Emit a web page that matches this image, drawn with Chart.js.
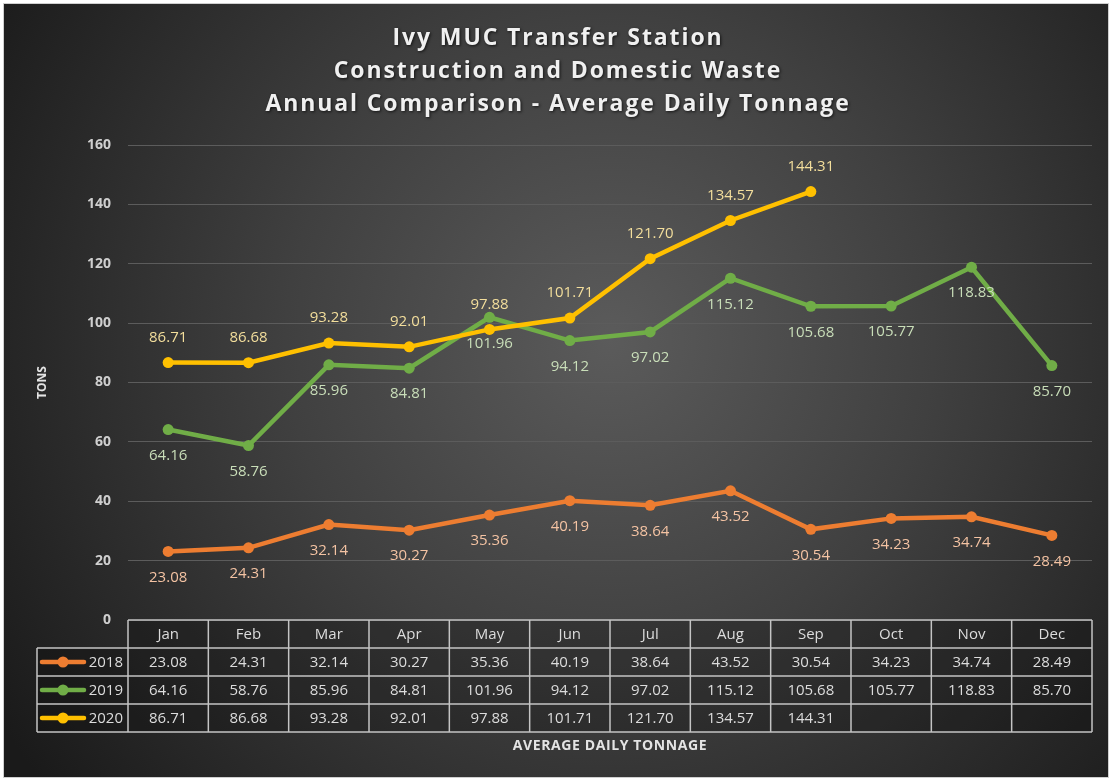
<!DOCTYPE html>
<html>
<head>
<meta charset="utf-8">
<script src="https://cdn.jsdelivr.net/npm/chart.js@4.4.1/dist/chart.umd.min.js"></script>
<style>
  html, body { margin: 0; padding: 0; background: #ffffff; }
  #wrap { width: 1112px; height: 781px; position: relative; }
  canvas { display: block; }
</style>
</head>
<body>
<div id="wrap"><canvas id="c" width="1112" height="781"></canvas></div>
<script>
// ---------- DATA ----------
const months = ['Jan', 'Feb', 'Mar', 'Apr', 'May', 'Jun', 'Jul', 'Aug', 'Sep', 'Oct', 'Nov', 'Dec'];
const seriesNames = ['2018', '2019', '2020'];
const tons2018 = [23.08, 24.31, 32.14, 30.27, 35.36, 40.19, 38.64, 43.52, 30.54, 34.23, 34.74, 28.49];
const tons2019 = [64.16, 58.76, 85.96, 84.81, 101.96, 94.12, 97.02, 115.12, 105.68, 105.77, 118.83, 85.70];
const tons2020 = [86.71, 86.68, 93.28, 92.01, 97.88, 101.71, 121.70, 134.57, 144.31, null, null, null];
const yMin = 0;
const yMax = 160;
const yStep = 20;
const titleLines = ['Ivy MUC Transfer Station', 'Construction and Domestic Waste', 'Annual Comparison - Average Daily Tonnage'];
const yAxisTitle = 'TONS';
const xAxisTitle = 'AVERAGE DAILY TONNAGE';

// ---------- STYLE ----------
const FONT = "'Open Sans', 'Liberation Sans', sans-serif";
const lineColors = ['#ED7D31', '#70AD47', '#FFC000'];
const labelColors = ['#F4C3A3', '#C9DEB9', '#F3DE9C'];
const labelOffsets = [26, 26, -25];

const allSeries = [tons2018, tons2019, tons2020];

const bgPlugin = {
  id: 'bg',
  beforeDraw(chart) {
    const ctx = chart.ctx;
    const W = chart.width, H = chart.height;
    ctx.save();
    ctx.fillStyle = '#ffffff';
    ctx.fillRect(0, 0, W, H);
    ctx.fillStyle = '#cfcfcf';
    ctx.fillRect(3, 3, W - 6, H - 6);
    const g = ctx.createRadialGradient(610, 340, 0, 610, 340, 720);
    g.addColorStop(0, '#5b5b5b');
    g.addColorStop(0.45, '#404040');
    g.addColorStop(1, '#1a1a1a');
    ctx.fillStyle = g;
    ctx.fillRect(4, 4, W - 8, H - 8);
    ctx.restore();
  }
};

const titlePlugin = {
  id: 'spacedTitle',
  afterDraw(chart) {
    const ctx = chart.ctx;
    ctx.save();
    ctx.font = 'bold 23px ' + FONT;
    if ('letterSpacing' in ctx) ctx.letterSpacing = '1.9px';
    ctx.textAlign = 'center';
    ctx.textBaseline = 'middle';
    ctx.shadowColor = 'rgba(0,0,0,0.7)';
    ctx.shadowBlur = 3;
    ctx.shadowOffsetX = 1;
    ctx.shadowOffsetY = 1;
    ctx.fillStyle = '#f0f0f0';
    titleLines.forEach((t, i) => {
      ctx.fillText(t, chart.width / 2 + 2, 38 + i * 33);
    });
    ctx.restore();
  }
};

const labelPlugin = {
  id: 'valueLabels',
  afterDatasetsDraw(chart) {
    const ctx = chart.ctx;
    ctx.save();
    ctx.font = '15px ' + FONT;
    ctx.textAlign = 'center';
    ctx.textBaseline = 'middle';
    chart.data.datasets.forEach((ds, di) => {
      const meta = chart.getDatasetMeta(di);
      meta.data.forEach((pt, i) => {
        const v = ds.data[i];
        if (v === null || v === undefined) return;
        ctx.fillStyle = labelColors[di];
        ctx.fillText(v.toFixed(2), pt.x, pt.y + labelOffsets[di]);
      });
    });
    ctx.restore();
  }
};

const tablePlugin = {
  id: 'dataTable',
  afterDraw(chart) {
    const ctx = chart.ctx;
    const area = chart.chartArea;
    const xs = chart.scales.x;
    const n = months.length;
    const colW = (area.right - area.left) / n;
    const top = area.bottom;
    const rowH = 28;
    const legendLeft = 37;
    const bottom = top + rowH * (seriesNames.length + 1);
    ctx.save();
    ctx.fillStyle = 'rgba(0,0,0,0.22)';
    ctx.fillRect(area.left, top, area.right - area.left, bottom - top);
    ctx.fillRect(legendLeft, top + rowH, area.left - legendLeft, bottom - top - rowH);
    ctx.strokeStyle = '#c4c4c4';
    ctx.lineWidth = 1.5;
    ctx.beginPath();
    ctx.moveTo(area.left, top); ctx.lineTo(area.right, top);
    for (let r = 1; r <= seriesNames.length + 1; r++) {
      const y = top + r * rowH;
      ctx.moveTo(legendLeft, y); ctx.lineTo(area.right, y);
    }
    for (let c = 0; c <= n; c++) {
      const x = area.left + c * colW;
      ctx.moveTo(x, top); ctx.lineTo(x, bottom);
    }
    ctx.moveTo(legendLeft, top + rowH); ctx.lineTo(legendLeft, bottom);
    ctx.stroke();
    ctx.font = '15px ' + FONT;
    ctx.textAlign = 'center';
    ctx.textBaseline = 'middle';
    ctx.fillStyle = '#dcdcdc';
    months.forEach((m, i) => {
      ctx.fillText(m, xs.getPixelForValue(i), top + rowH / 2 + 1);
    });
    allSeries.forEach((arr, r) => {
      const cy = top + rowH * (r + 1) + rowH / 2 + 1;
      arr.forEach((v, i) => {
        if (v === null || v === undefined) return;
        ctx.fillStyle = '#dcdcdc';
        ctx.fillText(v.toFixed(2), xs.getPixelForValue(i), cy);
      });
      ctx.strokeStyle = lineColors[r];
      ctx.lineWidth = 4.5;
      ctx.lineCap = 'round';
      ctx.beginPath();
      ctx.moveTo(42, cy - 1); ctx.lineTo(84, cy - 1);
      ctx.stroke();
      ctx.fillStyle = lineColors[r];
      ctx.beginPath();
      ctx.arc(63, cy - 1, 5.5, 0, Math.PI * 2);
      ctx.fill();
      ctx.fillStyle = '#dcdcdc';
      ctx.textAlign = 'right';
      ctx.fillText(seriesNames[r], area.left - 5, cy);
      ctx.textAlign = 'center';
    });
    ctx.font = 'bold 14px ' + FONT;
    if ('letterSpacing' in ctx) ctx.letterSpacing = '0.6px';
    ctx.fillStyle = '#e4e4e4';
    ctx.fillText(xAxisTitle, (area.left + area.right) / 2, bottom + 14);
    ctx.restore();
  }
};

const datasets = allSeries.map((arr, i) => ({
  label: seriesNames[i],
  data: arr,
  borderColor: lineColors[i],
  backgroundColor: lineColors[i],
  pointBackgroundColor: lineColors[i],
  pointBorderColor: lineColors[i],
  borderWidth: 4.5,
  pointRadius: 5.5,
  pointBorderWidth: 0,
  tension: 0,
  spanGaps: false,
  order: 2 - i
}));

new Chart(document.getElementById('c'), {
  type: 'line',
  data: { labels: months, datasets },
  options: {
    responsive: false,
    devicePixelRatio: 1,
    animation: false,
    layout: { padding: { left: 20, right: 20, top: 145, bottom: 161 } },
    plugins: {
      legend: { display: false },
      tooltip: { enabled: false },
      title: { display: false }
    },
    scales: {
      x: {
        type: 'category',
        display: false,
        offset: true
      },
      y: {
        min: yMin,
        max: yMax,
        ticks: {
          stepSize: yStep,
          color: '#cfcfcf',
          font: { family: FONT, size: 14, weight: 'bold' },
          padding: 17
        },
        grid: { color: '#5c5c5c', lineWidth: 1, drawTicks: false },
        border: { display: false },
        title: {
          display: true,
          text: yAxisTitle,
          color: '#e4e4e4',
          font: { family: FONT, size: 12, weight: 'bold' },
          padding: { top: 15, bottom: 0 }
        },
        afterFit(scale) { scale.width = 108; }
      }
    }
  },
  plugins: [bgPlugin, labelPlugin, tablePlugin, titlePlugin]
});
</script>
</body>
</html>
